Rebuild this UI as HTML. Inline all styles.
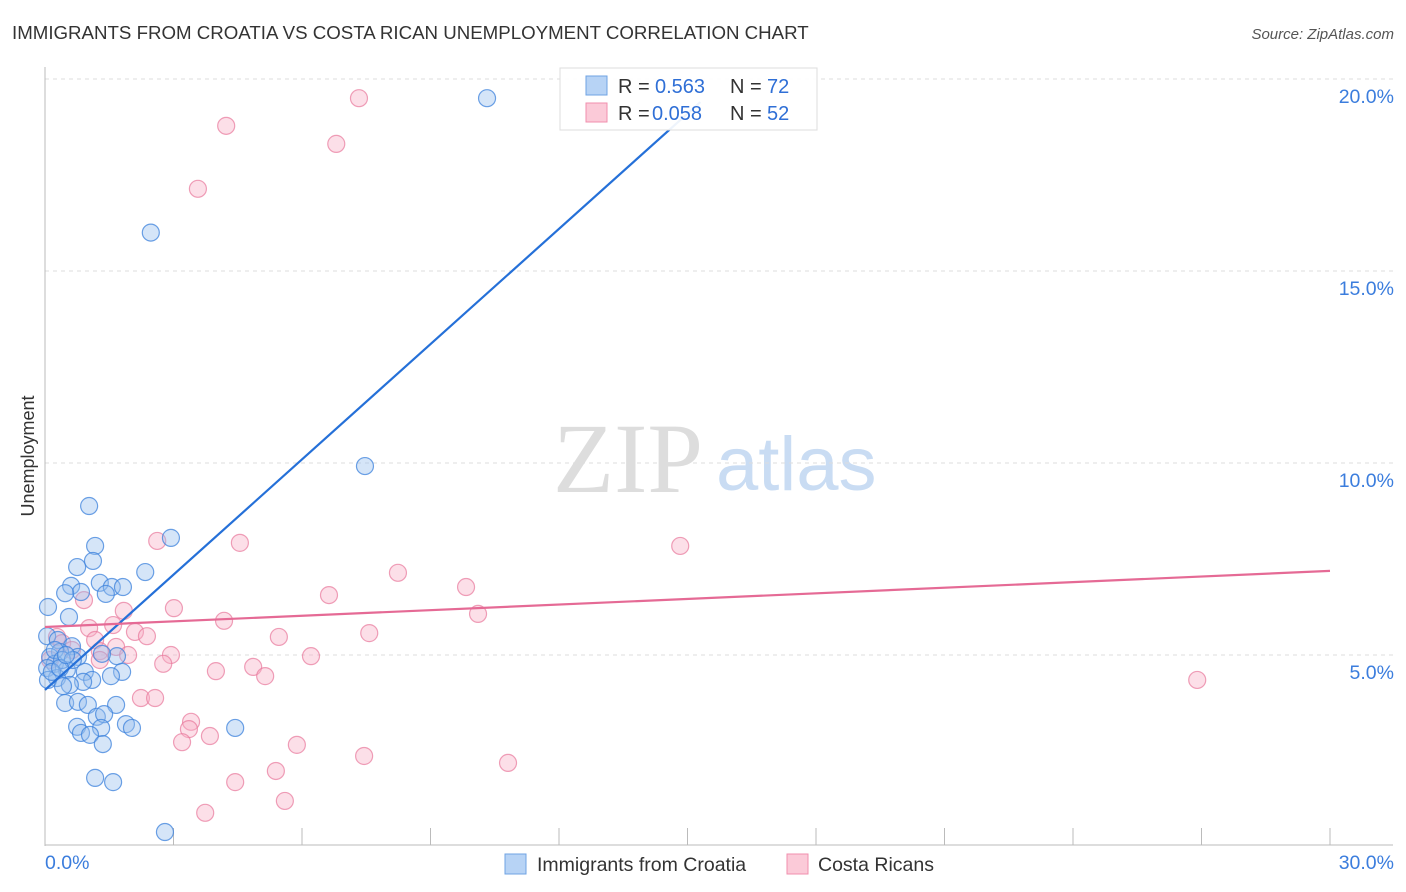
<!DOCTYPE html>
<html><head><meta charset="utf-8"><style>
body{margin:0;background:#fff;font-family:"Liberation Sans",sans-serif;}
#wrap{position:relative;width:1406px;height:892px;overflow:hidden;}
</style></head><body>
<div id="wrap">
<svg id="svg" width="1406" height="892" xmlns="http://www.w3.org/2000/svg">
<text x="12" y="39" font-size="18.7" fill="#333">IMMIGRANTS FROM CROATIA VS COSTA RICAN UNEMPLOYMENT CORRELATION CHART</text>
<text x="1394" y="39" font-size="15" fill="#555" font-style="italic" text-anchor="end">Source: ZipAtlas.com</text>
<text x="34" y="456" font-size="18" fill="#333" text-anchor="middle" transform="rotate(-90 34 456)">Unemployment</text>
<text x="553" y="492" font-size="100" fill="#ddd" font-family="Liberation Serif,serif">ZIP</text>
<text x="716" y="490" font-size="76" fill="#c9dcf3">atlas</text>
<g id="grid"></g><g id="axes"></g><g id="pts"></g><g id="lines"></g>
<g>
<rect x="560" y="68" width="257" height="62" fill="rgba(255,255,255,0.92)" stroke="#ddd"/>
<rect x="586" y="76" width="21" height="19" fill="#b7d3f5" stroke="#6fa3e3"/>
<rect x="586" y="103" width="21" height="19" fill="#fbcad8" stroke="#f08fae"/>
<text x="618" y="93" font-size="20" fill="#333">R = </text><text x="655" y="93" font-size="20" fill="#2f6fd6">0.563</text>
<text x="730" y="93" font-size="20" fill="#333">N = </text><text x="767" y="93" font-size="20" fill="#2f6fd6">72</text>
<text x="618" y="120" font-size="20" fill="#333">R = </text><text x="652" y="120" font-size="20" fill="#2f6fd6">0.058</text>
<text x="730" y="120" font-size="20" fill="#333">N = </text><text x="767" y="120" font-size="20" fill="#2f6fd6">52</text>
</g>
<g>
<rect x="505" y="854" width="21" height="20" fill="#b7d3f5" stroke="#6fa3e3"/>
<text x="537" y="871" font-size="19.5" fill="#333">Immigrants from Croatia</text>
<rect x="787" y="854" width="21" height="20" fill="#fbcad8" stroke="#f08fae"/>
<text x="818" y="871" font-size="19.5" fill="#333">Costa Ricans</text>
</g>
</svg>
</div>
<script>
const yTicks=[5,10,15,20];
const yTickLabels=["5.0%","10.0%","15.0%","20.0%"];
const xTickLabels=["0.0%","30.0%"];
const blueX=[10.32,2.47,7.47,1.03,2.94,1.17,1.12,2.34,0.75,0.61,1.28,1.56,1.82,1.42,0.84,0.47,0.07,0.56,0.05,0.30,0.63,0.35,0.12,0.77,1.68,1.33,0.23,0.05,0.51,0.93,1.80,1.54,0.28,0.07,1.10,0.89,0.58,0.42,0.47,0.77,1.00,1.66,1.21,1.38,0.75,1.31,1.89,2.03,0.84,1.05,1.35,4.44,1.17,1.59,2.80,0.23,0.40,0.65,0.16,0.35,0.49];
const blueY=[19.5,16.0,9.92,8.88,8.05,7.84,7.45,7.16,7.29,6.80,6.88,6.77,6.77,6.59,6.64,6.61,6.25,5.99,5.49,5.39,5.23,5.08,4.95,4.95,4.97,5.03,4.77,4.66,4.61,4.56,4.56,4.45,4.40,4.35,4.35,4.30,4.22,4.19,3.75,3.78,3.70,3.70,3.39,3.46,3.13,3.10,3.20,3.10,2.97,2.92,2.68,3.10,1.80,1.69,0.39,5.13,4.87,4.87,4.56,4.66,5.00];
const pinkX=[7.33,4.23,6.80,3.57,14.83,4.55,2.62,8.24,9.83,6.63,0.91,1.84,3.01,10.11,4.18,1.03,1.59,2.10,2.38,7.57,5.46,1.17,0.28,1.66,1.28,1.94,2.94,6.21,2.76,4.86,3.99,5.14,26.90,2.24,2.57,3.41,3.36,3.85,3.20,5.88,7.45,10.81,5.39,4.44,5.60,3.74,0.40,0.63,0.12,1.28];
const pinkY=[19.5,18.78,18.31,17.14,7.84,7.92,7.97,7.14,6.77,6.56,6.43,6.15,6.22,6.07,5.89,5.70,5.78,5.60,5.49,5.57,5.47,5.39,5.47,5.21,5.10,5.00,5.00,4.97,4.77,4.69,4.58,4.45,4.35,3.88,3.88,3.26,3.07,2.89,2.73,2.66,2.37,2.19,1.98,1.69,1.20,0.89,5.31,5.13,4.87,4.87];
const blueLine=[[0,4.09],[15.3,19.4]];
const pinkLine=[[0,5.73],[30,7.19]];
const NS="http://www.w3.org/2000/svg";
const sx=v=>45+v*1285/30, sy=v=>847-v*38.4;
function mk(tag,attrs,parent){const e=document.createElementNS(NS,tag);for(const k in attrs)e.setAttribute(k,attrs[k]);parent.appendChild(e);return e;}
const grid=document.getElementById('grid'),axes=document.getElementById('axes'),pts=document.getElementById('pts'),lines=document.getElementById('lines');
yTicks.forEach((t,i)=>{
 const l=mk('line',{x1:45,x2:1393,y1:sy(t),y2:sy(t),stroke:'#ddd','stroke-dasharray':'4,4'},grid);
 
 
 const tx=mk('text',{x:1394,y:sy(t)+24,'font-size':19.5,fill:'#3b7ddd','text-anchor':'end'},grid);
 tx.textContent=yTickLabels[i];
 
 
});
const ax=mk('line',{x1:45,x2:45,y1:67,y2:846,stroke:'#bbb'},axes);


const bx=mk('line',{x1:45,x2:1393,y1:845,y2:845,stroke:'#bbb'},axes);


for(let i=1;i<=10;i++){const t=mk('line',{x1:sx(i*3),x2:sx(i*3),y1:828,y2:845,stroke:'#bbb'},axes);
 
 }
[[0,45,'start'],[30,1394,'end']].forEach((d,i)=>{const t=mk('text',{x:d[1],y:869,'font-size':19.5,fill:'#3b7ddd','text-anchor':d[2]},axes);t.textContent=xTickLabels[i];
 
 });
function dots(X,Y,fill,stroke,name){X.forEach((x,i)=>{const c=mk('circle',{cx:sx(x),cy:sy(Y[i]),r:8.5,fill:fill,stroke:stroke,'stroke-width':1.2},pts);
 
 });}
dots(pinkX,pinkY,'rgba(248,175,198,0.4)','rgba(232,120,155,0.7)','costa-rica-point');
dots(blueX,blueY,'rgba(150,190,238,0.4)','rgba(60,130,220,0.75)','croatia-point');
const bl=mk('line',{x1:sx(blueLine[0][0]),y1:sy(blueLine[0][1]),x2:sx(blueLine[1][0]),y2:sy(blueLine[1][1]),stroke:'#2570d8','stroke-width':2.2},lines);


const pl=mk('line',{x1:sx(pinkLine[0][0]),y1:sy(pinkLine[0][1]),x2:sx(pinkLine[1][0]),y2:sy(pinkLine[1][1]),stroke:'#e56a95','stroke-width':2.2},lines);


</script>
</body></html>
